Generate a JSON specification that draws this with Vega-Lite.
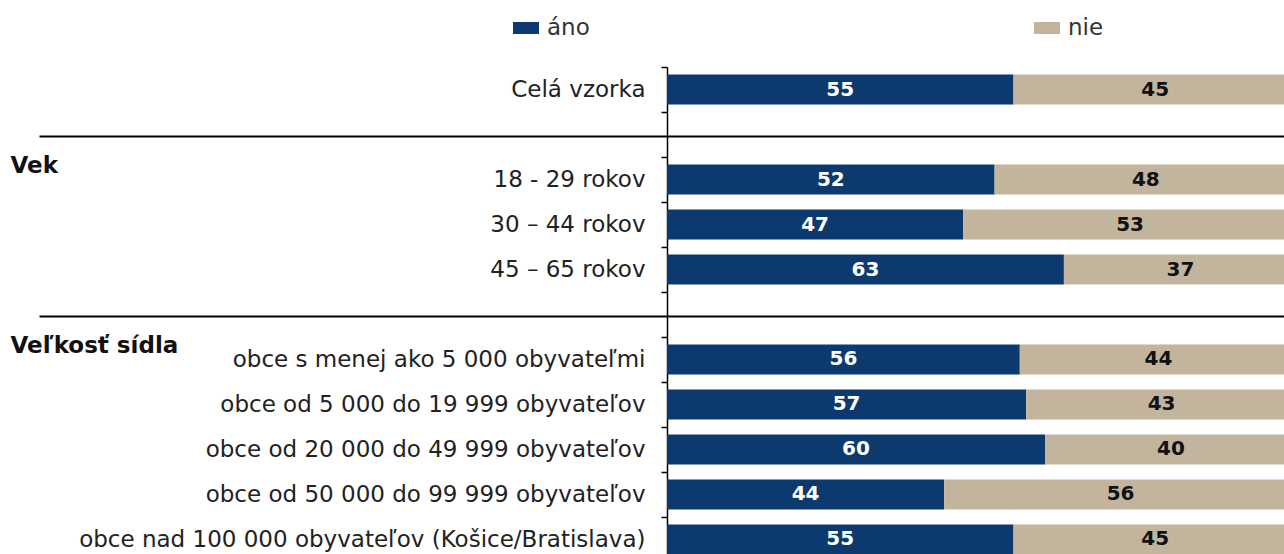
{
  "$schema": "https://vega.github.io/schema/vega-lite/v6.json",
  "width": 630,
  "height": 495,
  "autosize": {"type": "none"},
  "padding": {"left": 667, "top": 67, "right": 0, "bottom": 0},
  "background": "#ffffff",
  "config": {"view": {"stroke": null}, "font": "DejaVu Sans"},
  "data": {
    "values": [
      {"category": "Celá vzorka", "answer": "áno", "value": 55},
      {"category": "Celá vzorka", "answer": "nie", "value": 45},
      {"category": "18 - 29 rokov", "answer": "áno", "value": 52},
      {"category": "18 - 29 rokov", "answer": "nie", "value": 48},
      {"category": "30 – 44 rokov", "answer": "áno", "value": 47},
      {"category": "30 – 44 rokov", "answer": "nie", "value": 53},
      {"category": "45 – 65 rokov", "answer": "áno", "value": 63},
      {"category": "45 – 65 rokov", "answer": "nie", "value": 37},
      {"category": "obce s menej ako 5 000 obyvateľmi", "answer": "áno", "value": 56},
      {"category": "obce s menej ako 5 000 obyvateľmi", "answer": "nie", "value": 44},
      {"category": "obce od 5 000 do 19 999 obyvateľov", "answer": "áno", "value": 57},
      {"category": "obce od 5 000 do 19 999 obyvateľov", "answer": "nie", "value": 43},
      {"category": "obce od 20 000 do 49 999 obyvateľov", "answer": "áno", "value": 60},
      {"category": "obce od 20 000 do 49 999 obyvateľov", "answer": "nie", "value": 40},
      {"category": "obce od 50 000 do 99 999 obyvateľov", "answer": "áno", "value": 44},
      {"category": "obce od 50 000 do 99 999 obyvateľov", "answer": "nie", "value": 56},
      {"category": "obce nad 100 000 obyvateľov (Košice/Bratislava)", "answer": "áno", "value": 55},
      {"category": "obce nad 100 000 obyvateľov (Košice/Bratislava)", "answer": "nie", "value": 45}
    ]
  },
  "transform": [
    {"stack": "value", "groupby": ["category"], "sort": [{"field": "answer", "order": "descending"}], "as": ["x0", "x1"]},
    {"calculate": "(datum.x0 + datum.x1) / 2", "as": "xmid"}
  ],
  "layer": [
    {
      "mark": {"type": "bar"},
      "encoding": {
        "y": {
          "field": "category",
          "type": "nominal",
          "scale": {
            "domain": ["Celá vzorka", "Vek", "18 - 29 rokov", "30 – 44 rokov", "45 – 65 rokov", "Veľkosť sídla", "obce s menej ako 5 000 obyvateľmi", "obce od 5 000 do 19 999 obyvateľov", "obce od 20 000 do 49 999 obyvateľov", "obce od 50 000 do 99 999 obyvateľov", "obce nad 100 000 obyvateľov (Košice/Bratislava)"],
            "paddingInner": 0.333,
            "paddingOuter": 0.1667
          },
          "axis": {
            "orient": "left",
            "title": null,
            "bandPosition": 0,
            "tickOffset": -7.5,
            "labelOffset": 7.5,
            "tickSize": 6,
            "tickColor": "#000000",
            "tickWidth": 1.5,
            "domainColor": "#000000",
            "domainWidth": 1.5,
            "grid": false,
            "labelFont": "DejaVu Sans",
            "labelFontSize": 23,
            "labelColor": "#222222",
            "labelPadding": 16,
            "labelLimit": 700,
            "labelExpr": "datum.value === 'Vek' || datum.value === 'Veľkosť sídla' ? '' : datum.value"
          }
        },
        "x": {"field": "x0", "type": "quantitative", "scale": {"domain": [0, 100], "nice": false}, "axis": null},
        "x2": {"field": "x1"},
        "color": {
          "field": "answer",
          "type": "nominal",
          "scale": {"domain": ["áno", "nie"], "range": ["#0c3a6e", "#c3b49d"]},
          "legend": {
            "title": null,
            "orient": "none",
            "legendX": -154,
            "legendY": -52,
            "direction": "horizontal",
            "symbolType": "M-1,-0.46H1V0.46H-1Z",
            "symbolSize": 676,
            "symbolStrokeWidth": 0,
            "symbolOpacity": 1,
            "labelFont": "DejaVu Sans",
            "labelFontSize": 23,
            "labelColor": "#333333",
            "labelOffset": 8,
            "columnPadding": 444
          }
        }
      }
    },
    {
      "mark": {"type": "text", "fontSize": 20, "fontWeight": "bold", "font": "DejaVu Sans"},
      "encoding": {
        "y": {
          "field": "category",
          "type": "nominal",
          "axis": {
            "orient": "left",
            "title": null,
            "values": ["Vek", "Veľkosť sídla"],
            "domain": false,
            "tickSize": 628,
            "tickWidth": 2,
            "tickColor": "#000000",
            "tickOffset": 1.5,
            "grid": true,
            "gridColor": "#000000",
            "gridWidth": 2,
            "gridOpacity": 1,
            "labelFont": "DejaVu Sans",
            "labelFontWeight": "bold",
            "labelFontSize": 23,
            "labelColor": "#111111",
            "labelAlign": "left",
            "labelBaseline": "top",
            "labelOffset": 18.5,
            "labelPadding": 29,
            "labelLimit": 400
          }
        },
        "x": {"field": "xmid", "type": "quantitative"},
        "text": {"field": "value"},
        "color": {"condition": {"test": "datum.answer === 'áno'", "value": "#ffffff"}, "value": "#111111"}
      }
    }
  ],
  "resolve": {"axis": {"y": "independent"}}
}
